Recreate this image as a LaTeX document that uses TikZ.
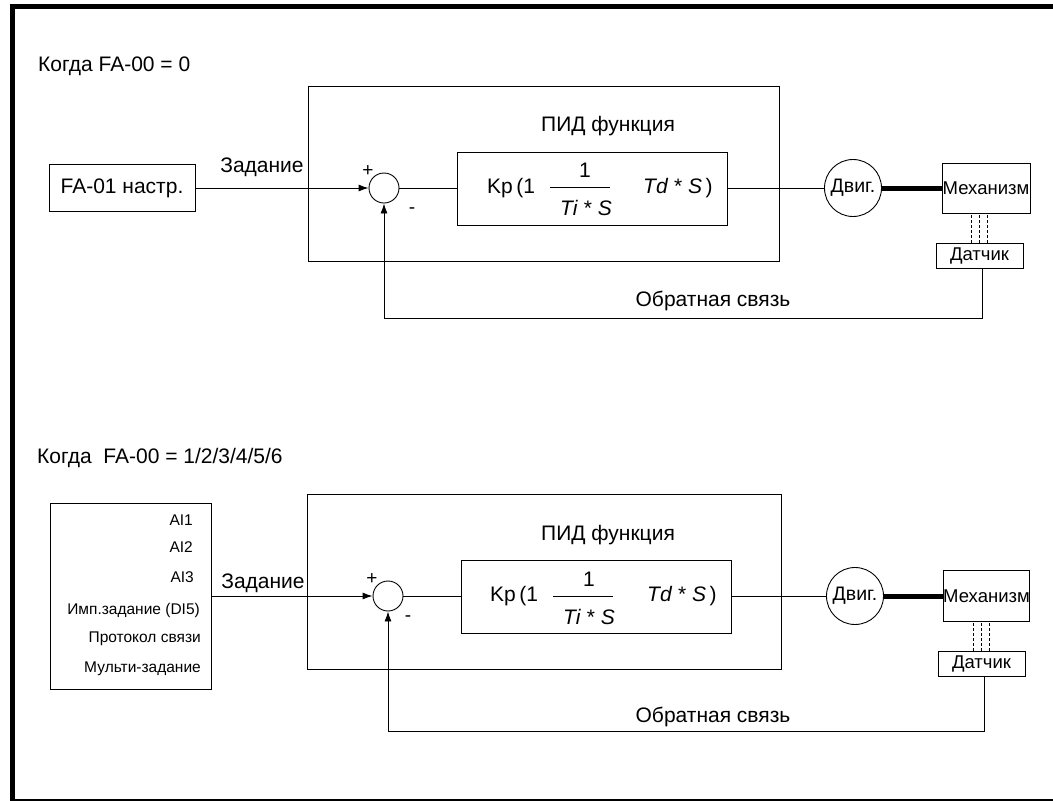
\documentclass[tikz,border=0pt]{standalone}
\usepackage{fontspec}
\setmainfont{Liberation Sans}
\usetikzlibrary{arrows.meta}
\tikzset{
  blk/.style={draw, line width=0.9pt, inner sep=0pt},
  txt/.style={font=\fontsize{21}{25}\selectfont, inner sep=0pt},
  smalltxt/.style={font=\fontsize{18.5}{22}\selectfont, inner sep=0pt},
  motortxt/.style={font=\fontsize{19.5}{22}\selectfont, inner sep=0pt},
  listtxt/.style={font=\fontsize{15.5}{18}\selectfont, inner sep=0pt, anchor=east},
  signtxt/.style={font=\fontsize{19}{20}\selectfont, inner sep=0pt},
  wire/.style={line width=0.9pt},
  sig/.style={line width=0.9pt, -{Latex[length=10pt,width=7pt]}},
  shaft/.style={line width=5pt},
  probe/.style={line width=1pt, dash pattern=on 3pt off 2pt},
}

\begin{document}
\begin{tikzpicture}[x=1pt,y=-1pt]
  \useasboundingbox (0,0) rectangle (1053,801);
  % Frame
  \draw[line width=5pt] (9.5,6.5) -- (1053,6.5);
  \draw[line width=5.5pt] (12.3,4) -- (12.3,801);
  \draw[line width=2pt] (10,799.5) -- (1053,799.5);

  % Upper loop: FA-00 = 0
  \node[txt, anchor=west] (headA) at (38,66) {Когда FA-00 = 0};
  \node[blk, txt, minimum width=146pt, minimum height=47pt] (srcA) at (122,188) {FA-01 настр.};
  \node[txt] (setA) at (262,167) {Задание};
  \node[blk, circle, minimum size=30pt] (sumA) at (384,188) {};
  \node[signtxt] (plusA) at (368,171) {+};
  \node[signtxt] (minusA) at (412,211) {-};
  \node[blk, minimum width=471pt, minimum height=175pt] (pidA) at (543.5,173.5) {};
  \node[txt] (pidtA) at (608,126) {ПИД функция};
  \node[blk, minimum width=270pt, minimum height=73pt] (ctrlA) at (592,188.5) {};
  \node[txt, anchor=west] (kpA) at (487,188) {Kp\,(1};
  \node[txt] (numA) at (585,170) {1};
  \draw[wire] (550,187) -- (610,187);
  \node[txt] (denA) at (586,208) {\textit{Ti} * \textit{S}};
  \node[txt, anchor=west] (tdA) at (643,188) {\textit{Td} * \textit{S}\,)};
  \node[blk, circle, minimum size=57pt, motortxt] (motA) at (853,188) {Двиг.};
  \node[blk, smalltxt, minimum width=88pt, minimum height=50pt] (mechA) at (986,188) {Механизм};
  \node[blk, smalltxt, minimum width=87pt, minimum height=25pt] (sensA) at (979.5,255.5) {Датчик};
  \node[txt] (fbtA) at (713,301) {Обратная связь};

  \draw[sig] (srcA) -- (sumA);
  \draw[wire] (sumA.east) -- (sumA.east -| ctrlA.west);
  \draw[wire] (ctrlA.east |- motA.west) -- (motA.west);
  \draw[shaft] (motA.east) -- (mechA.west);
  \draw[probe] ([xshift=-8pt]sensA.north) -- ([xshift=-8pt]sensA.north |- mechA.south)
               (sensA.north) -- (sensA.north |- mechA.south)
               ([xshift=8pt]sensA.north) -- ([xshift=8pt]sensA.north |- mechA.south);
  \draw[sig] ([xshift=3pt]sensA.south) -- ++(0,50) -| (sumA.south);

  % Lower loop: FA-00 = 1/2/3/4/5/6
  \node[txt, anchor=west] (headB) at (37,458) {Когда\ \ FA-00 = 1/2/3/4/5/6};
  \node[blk, minimum width=161pt, minimum height=186pt] (srcB) at (130.5,596) {};
  \node[listtxt] (lstB1) at (193,520) {AI1};
  \node[listtxt] (lstB2) at (193,547) {AI2};
  \node[listtxt] (lstB3) at (194,577) {AI3};
  \node[listtxt] (lstB4) at (200,610) {Имп.задание (DI5)};
  \node[listtxt] (lstB5) at (201,639) {Протокол связи};
  \node[listtxt] (lstB6) at (201,669) {Мульти-задание};
  \node[txt] (setB) at (263,583) {Задание};
  \node[blk, circle, minimum size=30pt] (sumB) at (388,596) {};
  \node[signtxt] (plusB) at (372,579) {+};
  \node[signtxt] (minusB) at (408,619) {-};
  \node[blk, minimum width=474pt, minimum height=175pt] (pidB) at (544,581.5) {};
  \node[txt] (pidtB) at (608,535) {ПИД функция};
  \node[blk, minimum width=270pt, minimum height=73pt] (ctrlB) at (596,596.5) {};
  \node[txt, anchor=west] (kpB) at (490,596) {Kp\,(1};
  \node[txt] (numB) at (589,579) {1};
  \draw[wire] (553,596) -- (613,596);
  \node[txt] (denB) at (589,617) {\textit{Ti} * \textit{S}};
  \node[txt, anchor=west] (tdB) at (647,596) {\textit{Td} * \textit{S}\,)};
  \node[blk, circle, minimum size=57pt, motortxt] (motB) at (855,596) {Двиг.};
  \node[blk, smalltxt, minimum width=85pt, minimum height=51pt] (mechB) at (986.5,596) {Механизм};
  \node[blk, smalltxt, minimum width=87pt, minimum height=25pt] (sensB) at (981.5,663.5) {Датчик};
  \node[txt] (fbtB) at (713,717) {Обратная связь};

  \draw[sig] (srcB) -- (sumB);
  \draw[wire] (sumB.east) -- (sumB.east -| ctrlB.west);
  \draw[wire] (ctrlB.east |- motB.west) -- (motB.west);
  \draw[shaft] (motB.east) -- (mechB.west);
  \draw[probe] ([xshift=-8pt]sensB.north) -- ([xshift=-8pt]sensB.north |- mechB.south)
               (sensB.north) -- (sensB.north |- mechB.south)
               ([xshift=8pt]sensB.north) -- ([xshift=8pt]sensB.north |- mechB.south);
  \draw[sig] ([xshift=3pt]sensB.south) -- ++(0,55) -| (sumB.south);
\end{tikzpicture}
\end{document}
